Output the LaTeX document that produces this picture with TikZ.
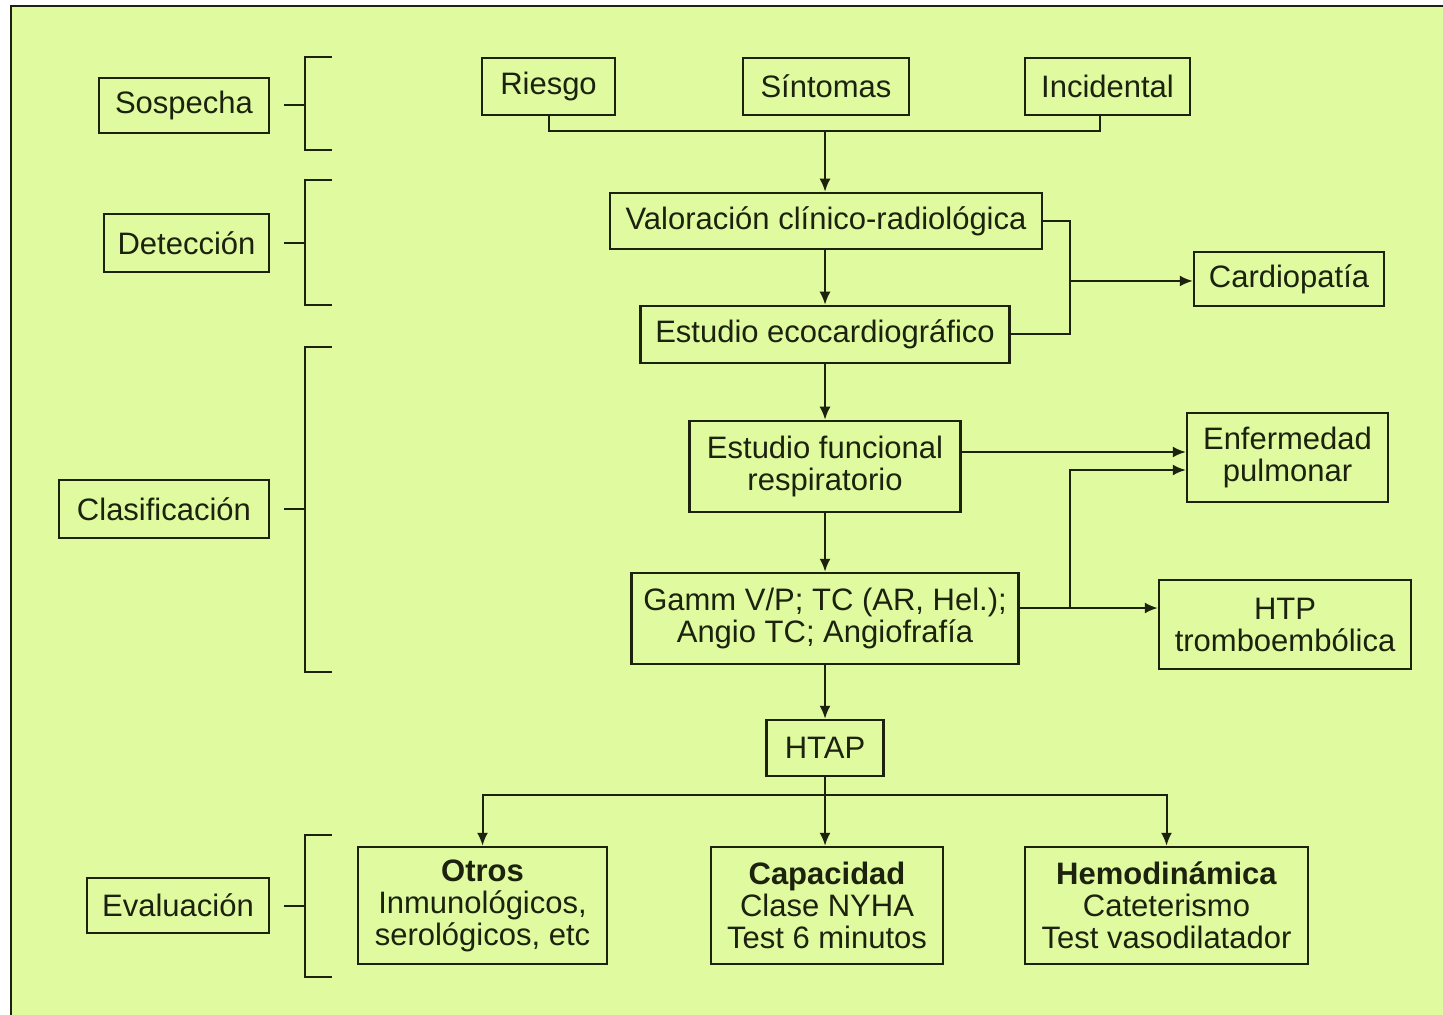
\documentclass[tikz,border=0pt]{standalone}
\usepackage{fontspec}
\setmainfont{Liberation Sans}
\usetikzlibrary{arrows.meta}
\definecolor{panel}{RGB}{223,250,159}
\definecolor{ink}{RGB}{28,34,14}
\begin{document}
\begin{tikzpicture}[x=0.5pt,y=-0.5pt,
  every node/.style={font=\fontsize{15.5}{16}\selectfont, text=ink},
  box/.style={draw=ink, line width=1.25pt, inner sep=0pt, align=center},
  wire/.style={draw=ink, line width=1pt},
  arr/.style={wire, -{Latex[length=6.5pt,width=5.5pt]}}]
\useasboundingbox (0,0) rectangle (1443,1015);
% page and panel
\fill[white] (0,0) rectangle (1443,1015);
\fill[panel] (11,6) rectangle (1443,1015);
\draw[ink, line width=1pt] (11,1015) -- (11,6) -- (1443,6);

% stage labels
\node[box, minimum width=85pt,  minimum height=27.5pt] (sosp)  at (184,105.5) {Sospecha};
\node[box, minimum width=82.5pt, minimum height=29pt]  (detec) at (186.5,243) {Detección};
\node[box, minimum width=105pt, minimum height=29pt]   (clasif) at (164,509) {Clasificación};
\node[box, minimum width=91pt,  minimum height=27.5pt] (evalu) at (178,905.5) {Evaluación};

% bracket corners
\coordinate (bs1) at (305,57);  \coordinate (bs2) at (305,150);
\coordinate (bd1) at (305,180); \coordinate (bd2) at (305,305);
\coordinate (bc1) at (305,347); \coordinate (bc2) at (305,672);
\coordinate (be1) at (305,835); \coordinate (be2) at (305,977);

\draw[wire] (sosp.east) ++(14,0) -- (sosp.east -| bs1);
\draw[wire] (detec.east) ++(14,0) -- (detec.east -| bd1);
\draw[wire] (clasif.east) ++(14,0) -- (clasif.east -| bc1);
\draw[wire] (evalu.east) ++(14,0) -- (evalu.east -| be1);
\draw[wire] (bs1) ++(27,0) -- (bs1) -- (bs2) -- ++(27,0);
\draw[wire] (bd1) ++(27,0) -- (bd1) -- (bd2) -- ++(27,0);
\draw[wire] (bc1) ++(27,0) -- (bc1) -- (bc2) -- ++(27,0);
\draw[wire] (be1) ++(27,0) -- (be1) -- (be2) -- ++(27,0);

% flow boxes
\node[box, minimum width=66.5pt, minimum height=28.5pt] (riesgo) at (548.5,86.5) {Riesgo};
\node[box, minimum width=83pt,   minimum height=28.5pt] (sint)   at (826,86.5) {Síntomas};
\node[box, minimum width=82.5pt, minimum height=28.5pt] (incid)  at (1107.5,86.5) {Incidental};
\node[box, minimum width=216pt,  minimum height=28pt]   (valor)  at (826,221) {Valoración clínico-radiológica};
\node[box, minimum width=184.5pt,minimum height=28.5pt] (eco)    at (825,334.5) {Estudio ecocardiográfico};
\node[box, minimum width=95pt,   minimum height=27pt]   (cardio) at (1289,279) {Cardiopatía};
\node[box, minimum width=135.5pt,minimum height=45.5pt] (func)   at (825,466.5) {Estudio funcional\\respiratorio};
\node[box, minimum width=100.5pt,minimum height=44.5pt] (enf)    at (1287.5,457.5) {Enfermedad\\pulmonar};
\node[box, minimum width=193.5pt,minimum height=45.5pt] (gamm)   at (825,618.5) {Gamm V/P; TC (AR, Hel.);\\Angio TC; Angiofrafía};
\node[box, minimum width=126pt,  minimum height=44.5pt] (htp)    at (1285,624.5) {HTP\\tromboembólica};
\node[box, minimum width=58.5pt, minimum height=28pt]   (htap)   at (825,748) {HTAP};
\node[box, minimum width=124.5pt,minimum height=58.5pt] (otros)  at (482.5,905.5) {\textbf{Otros}\\Inmunológicos,\\serológicos, etc};
\node[box, minimum width=116pt,  minimum height=58.5pt] (capac)  at (827,905.5) {\textbf{Capacidad}\\Clase NYHA\\Test 6 minutos};
\node[box, minimum width=141.5pt,minimum height=58.5pt] (hemo)   at (1166.5,905.5) {\textbf{Hemodinámica}\\Cateterismo\\Test vasodilatador};

% junction points
\coordinate (jtop) at (825,131);
\coordinate (jcar) at (1070,281);
\coordinate (jtro) at (1070,608);
\coordinate (jbot) at (825,795);

% connectors
\draw[wire] (riesgo.south) |- (jtop) -| ([xshift=-3.75pt]incid.south);
\draw[arr] (jtop) -- (jtop |- valor.north);
\draw[arr] (valor.south -| eco) -- (eco.north);
\draw[wire] (valor.east) -| (jcar) |- (eco.east);
\draw[arr] (jcar) -- (jcar -| cardio.west);
\draw[arr] (eco.south) -- (func.north);
\draw[arr] ([yshift=7.25pt]func.east) -- ([yshift=7.25pt]func.east -| enf.west);
\draw[arr] (func.south) -- (gamm.north);
\draw[arr] ([yshift=5.25pt]gamm.east) -- ([yshift=5.25pt]gamm.east -| htp.west);
\draw[arr] (jtro) |- ([yshift=-6.25pt]enf.west);
\draw[arr] (gamm.south) -- (htap.north);
\draw[wire] (htap.south) -- (jbot);
\draw[arr] (jbot) -| (otros.north);
\draw[arr] (jbot) -- (jbot |- capac.north);
\draw[arr] (jbot) -| (hemo.north);
\end{tikzpicture}
\end{document}
